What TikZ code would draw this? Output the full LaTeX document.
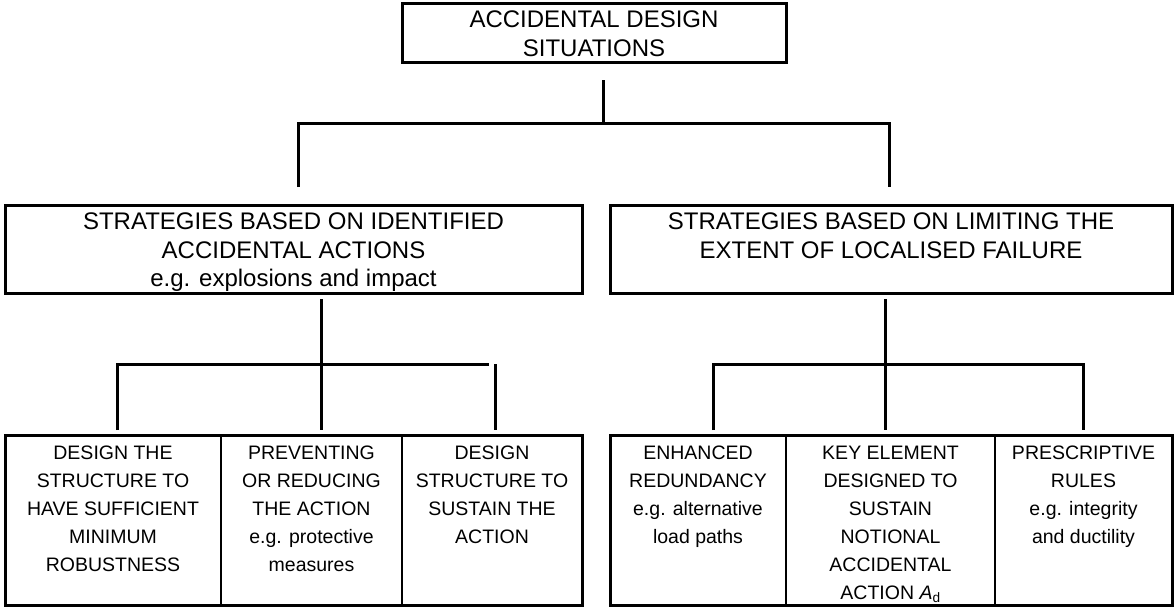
\documentclass[tikz,border=0pt]{standalone}
\usepackage{fontspec}
\setmainfont{Liberation Sans}
\usetikzlibrary{fit}
\begin{document}
\begin{tikzpicture}[x=1pt,y=-1pt,
  box/.style={draw, line width=3pt, inner sep=0pt},
  cell/.style={draw, line width=2.6pt, inner sep=0pt},
  wire/.style={line width=3pt},
  big/.style={font=\fontsize{24}{28.5}\selectfont, align=center, inner sep=0pt, anchor=north},
  small/.style={font=\fontsize{19.5}{28}\selectfont, align=center, inner sep=0pt, anchor=north}]
\useasboundingbox (0,0) rectangle (1176,608);
% boxes
\node[box, fit={(402,3)(786,62)}] (top) {};
\node[box, fit={(5,205)(582,293)}] (ml) {};
\node[box, fit={(610,205)(1172,293)}] (mr) {};
\node[cell, fit={(5,435)(221,605)}] (c1) {};
\node[cell, fit={(221,435)(402,605)}] (c2) {};
\node[cell, fit={(402,435)(582,605)}] (c3) {};
\node[cell, fit={(610,435)(786,605)}] (c4) {};
\node[cell, fit={(786,435)(995,605)}] (c5) {};
\node[cell, fit={(995,435)(1172,605)}] (c6) {};
\draw[line width=3pt] (5,435) rectangle (582,605);
\draw[line width=3pt] (610,435) rectangle (1172,605);
% texts
\node[big] (ttop) at (top.north |- 0,11) {ACCIDENTAL DESIGN\\SITUATIONS};
\node[big] (tml) at (ml.north |- 0,213) {STRATEGIES BASED ON IDENTIFIED\\ACCIDENTAL ACTIONS\\e.g. explosions and impact};
\node[big] (tmr) at (mr.north |- 0,213) {STRATEGIES BASED ON LIMITING THE\\EXTENT OF LOCALISED FAILURE};
\node[small] (t1) at (c1.north |- 0,446) {DESIGN THE\\STRUCTURE TO\\HAVE SUFFICIENT\\MINIMUM\\ROBUSTNESS};
\node[small] (t2) at (c2.north |- 0,446) {PREVENTING\\OR REDUCING\\THE ACTION\\e.g. protective\\measures};
\node[small] (t3) at (c3.north |- 0,446) {DESIGN\\STRUCTURE TO\\SUSTAIN THE\\ACTION};
\node[small] (t4) at (c4.north |- 0,446) {ENHANCED\\REDUNDANCY\\e.g. alternative\\load paths};
\node[small] (t5) at (c5.north |- 0,446) {KEY ELEMENT\\DESIGNED TO\\SUSTAIN\\NOTIONAL\\ACCIDENTAL\\ACTION {\itshape A}\textsubscript{d}};
\node[small] (t6) at (c6.north |- 0,446) {PRESCRIPTIVE\\RULES\\e.g. integrity\\and ductility};
% connectors
\coordinate (a0) at (603,80);
\coordinate (a1) at (603,123);
\coordinate (al) at (298,187);
\coordinate (ar) at (889,187);
\draw[wire] (a0) -- (a1);
\draw[wire] (al) -- (298,123) -- (889,123) -- (ar);
\coordinate (b0) at (321,299);
\coordinate (b1) at (321,430);
\coordinate (bl) at (117,430);
\coordinate (br) at (495,430);
\draw[wire] (b0) -- (b1);
\draw[wire] (bl) -- (117,364) -- (489,364);
\draw[wire] (495,364) -- (br);
\coordinate (d0) at (885,299);
\coordinate (d1) at (885,430);
\coordinate (dl) at (713,430);
\coordinate (dr) at (1083,430);
\draw[wire] (d0) -- (d1);
\draw[wire] (dl) -- (713,364) -- (1083,364) -- (dr);
\end{tikzpicture}
\end{document}
